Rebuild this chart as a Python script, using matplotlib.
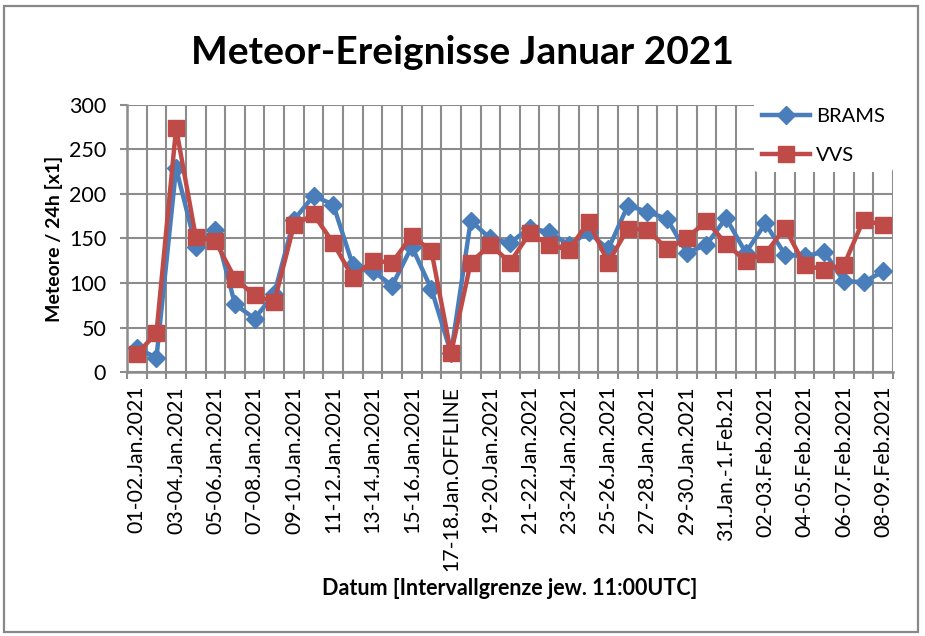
import matplotlib
matplotlib.use("Agg")
import matplotlib.pyplot as plt
from matplotlib.patches import Rectangle
from matplotlib.ticker import FixedLocator, MultipleLocator

plt.rcParams['font.family'] = ['Lato', 'DejaVu Sans']

categories = [
    "01-02.Jan.2021", "02-03.Jan.2021", "03-04.Jan.2021", "04-05.Jan.2021",
    "05-06.Jan.2021", "06-07.Jan.2021", "07-08.Jan.2021", "08-09.Jan.2021",
    "09-10.Jan.2021", "10-11.Jan.2021", "11-12.Jan.2021", "12-13.Jan.2021",
    "13-14.Jan.2021", "14-15.Jan.2021", "15-16.Jan.2021", "16-17.Jan.2021",
    "17-18.Jan.OFFLINE", "18-19.Jan.2021", "19-20.Jan.2021", "20-21.Jan.2021",
    "21-22.Jan.2021", "22-23.Jan.2021", "23-24.Jan.2021", "24-25.Jan.2021",
    "25-26.Jan.2021", "26-27.Jan.2021", "27-28.Jan.2021", "28-29.Jan.2021",
    "29-30.Jan.2021", "30-31.Jan.2021", "31.Jan.-1.Feb.21", "01-02.Feb.2021",
    "02-03.Feb.2021", "03-04.Feb.2021", "04-05.Feb.2021", "05-06.Feb.2021",
    "06-07.Feb.2021", "07-08.Feb.2021", "08-09.Feb.2021",
]

brams = [27, 16, 229, 141, 160, 76, 60, 88, 171, 198, 188, 120,
         114, 97, 141, 93, 21, 170, 150, 145, 162, 157, 143, 157,
         138, 187, 180, 172, 134, 143, 173, 134, 167, 132, 130, 135,
         102, 101, 113]

vvs = [20, 44, 274, 152, 147, 105, 86, 79, 165, 177, 145, 106,
       125, 123, 153, 136, 21, 123, 143, 123, 156, 143, 137, 169,
       123, 161, 160, 138, 150, 170, 144, 125, 133, 162, 120, 115,
       120, 171, 165]

series_names = ["BRAMS", "VVS"]
title = "Meteor-Ereignisse Januar 2021"
xlabel = "Datum [Intervallgrenze jew. 11:00UTC]"
ylabel = "Meteore / 24h [x1]"

blue = "#4A7EBB"
red = "#BE4B48"
grid_c = "#8C8C8C"

fig = plt.figure(figsize=(9.25, 6.36), dpi=100)
fig.patches.append(Rectangle((4/925, 1-632/636), 914/925, 626/636,
                             transform=fig.transFigure, fill=False,
                             edgecolor="#888888", linewidth=1.6))

ax = fig.add_axes([127/925, 1-372/636, (893-127)/925, (372-105)/636])
x = list(range(len(categories)))

ax.plot(x, brams, color=blue, lw=3.2, marker="D", ms=9.5,
        markerfacecolor=blue, markeredgecolor=blue, label=series_names[0], zorder=3)
ax.plot(x, vvs, color=red, lw=3.2, marker="s", ms=11,
        markerfacecolor=red, markeredgecolor=red, label=series_names[1], zorder=4)

ax.set_xlim(-0.5, len(categories) - 0.5)
ax.set_ylim(0, 300)
ax.yaxis.set_major_locator(MultipleLocator(50))

ax.xaxis.set_major_locator(FixedLocator(x[::2]))
ax.set_xticklabels(categories[::2], rotation=90, fontsize=15.3)
ax.xaxis.set_minor_locator(FixedLocator([i - 0.5 for i in range(len(categories) + 1)]))
ax.tick_params(axis="x", which="major", length=0, pad=10)
ax.tick_params(axis="x", which="minor", length=5, color=grid_c, width=1.5)
ax.tick_params(axis="y", which="major", length=5, color=grid_c, width=1.5,
               labelsize=15.5, pad=10)

ax.grid(True, axis="y", which="major", color=grid_c, lw=1.5)
ax.grid(True, axis="x", which="minor", color=grid_c, lw=1.5)
ax.grid(False, axis="x", which="major")
ax.set_axisbelow(True)

for s in ["top", "right"]:
    ax.spines[s].set_visible(False)
for s in ["left", "bottom"]:
    ax.spines[s].set_color(grid_c)
    ax.spines[s].set_linewidth(1.8)

fig.text(0.5, 1 - 52/636, title, fontsize=28, fontweight="bold",
         ha="center", va="center")
ax.set_xlabel(xlabel, fontsize=15.5, fontweight="bold", labelpad=5)
ax.set_ylabel(ylabel, fontsize=14, fontweight="bold", labelpad=4)

leg = ax.legend(loc="upper right", bbox_to_anchor=(1.0, 1.02), frameon=True,
                fontsize=14.5, handlelength=2.4, labelspacing=1.1,
                borderpad=0.4, handletextpad=0.3, borderaxespad=0.0)
leg.get_frame().set_facecolor("white")
leg.get_frame().set_edgecolor("none")
leg.get_frame().set_alpha(1.0)
leg.set_zorder(10)

fig.savefig("out.png", dpi=100)
